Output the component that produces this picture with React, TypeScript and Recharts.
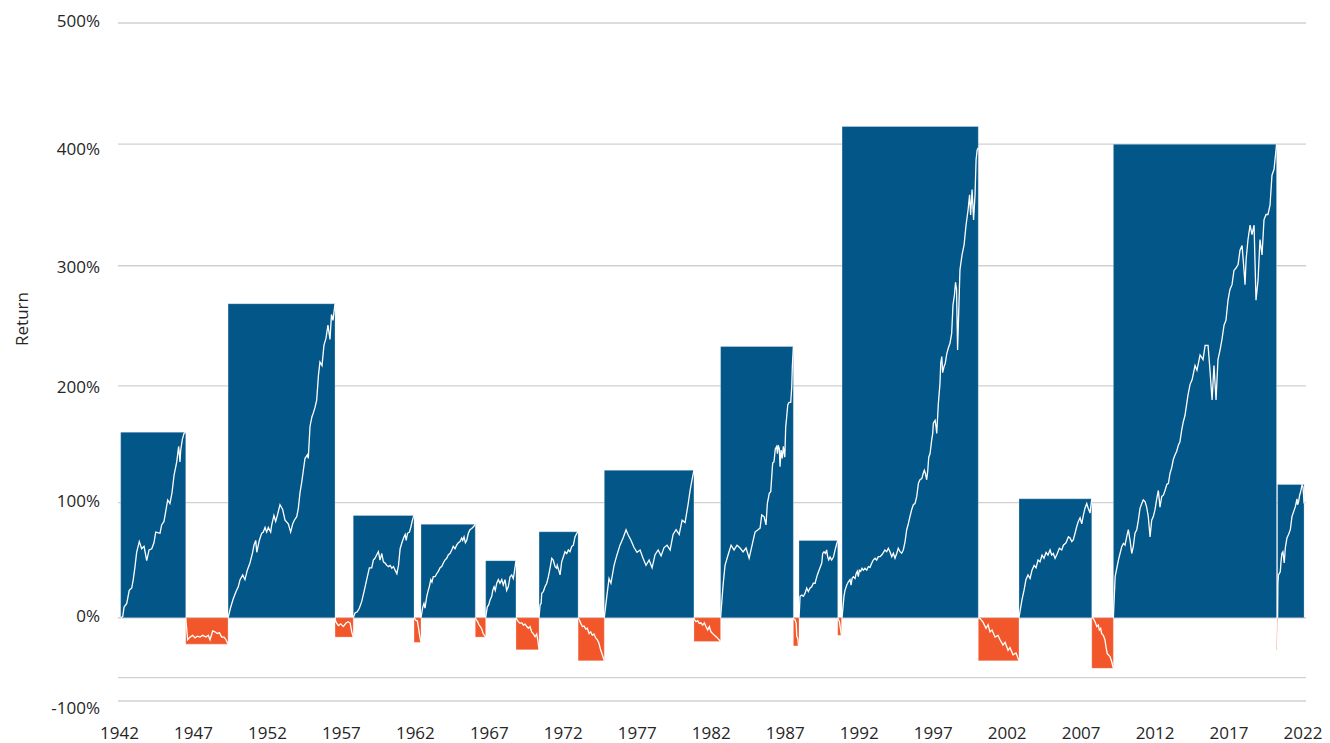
import { CartesianGrid, ComposedChart, Line, ReferenceArea, XAxis, YAxis } from "recharts";

const BLUE = "#035688";
const ORANGE = "#F1572A";
const INK = "#262626";
const FONT = "'Open Sans', sans-serif";

const yearTicks = [1942, 1947, 1952, 1957, 1962, 1967, 1972, 1977, 1982, 1987, 1992, 1997, 2002, 2007, 2012, 2017, 2022];
// gridlines sit where the original graphic draws them (it is not quite linear)
const returnTicks = [-70, -50.4, 0, 96.7, 195, 295.9, 398.2, 500];
const returnTickText = ["-100%", "", "0%", "100%", "200%", "300%", "400%", "500%"];
const returnTickShift = [6, 0, -2, -2, 1, 1, 4, -3];

// losses are drawn on a squeezed scale in the original graphic
const NEG_SQUASH = 0.74;
const toY = (r: number) => (r < 0 ? r * NEG_SQUASH : r);

// market phases (decimal years, cumulative return %)
const phaseStart = [1942.08, 1946.48, 1949.34, 1956.57, 1957.8, 1961.91, 1962.38, 1966.05, 1966.75, 1968.8, 1970.36, 1973.0, 1974.77, 1980.83, 1982.63, 1987.55, 1987.93, 1990.55, 1990.84, 2000.05, 2002.8, 2007.72, 2009.18, 2020.21, 2020.28];
const phaseEnd = [1946.48, 1949.34, 1956.57, 1957.8, 1961.91, 1962.38, 1966.05, 1966.75, 1968.8, 1970.36, 1973.0, 1974.77, 1980.83, 1982.63, 1987.55, 1987.93, 1990.55, 1990.8, 2000.05, 2002.8, 2007.72, 2009.18, 2020.21, 2020.28, 2022.07];
const phaseReturn = [156, -30, 264, -22, 86, -28, 78.5, -22, 48, -36.5, 72.3, -49, 124, -27, 228, -32, 65, -20, 413, -49, 100, -57.5, 398, -36, 112];

const path1942 = [[1942.08, 0], [1942.22, 1], [1942.31, 9], [1942.49, 12], [1942.66, 23], [1942.83, 25], [1942.93, 32], [1943.05, 43], [1943.16, 55], [1943.34, 64], [1943.5, 58], [1943.66, 60], [1943.84, 48], [1944.0, 57], [1944.18, 58], [1944.33, 63], [1944.45, 72], [1944.74, 71], [1944.85, 78], [1945.01, 81], [1945.12, 89], [1945.26, 99], [1945.41, 96], [1945.55, 105], [1945.69, 120], [1945.87, 131], [1946.0, 144], [1946.09, 131], [1946.14, 141], [1946.25, 150], [1946.36, 155], [1946.48, 156]];
const path1946 = [[1946.48, 0], [1946.55, -14], [1946.61, -25], [1946.77, -22], [1946.95, -20], [1947.11, -23], [1947.26, -21], [1947.44, -22], [1947.62, -20], [1947.85, -22], [1948.0, -20], [1948.12, -25], [1948.3, -15], [1948.45, -16], [1948.61, -18], [1948.75, -17], [1948.91, -22], [1949.07, -22], [1949.2, -25], [1949.34, -30]];
const path1949 = [[1949.34, 0], [1949.52, 9], [1949.69, 16], [1949.88, 22], [1950.03, 26], [1950.15, 32], [1950.33, 36], [1950.48, 32], [1950.64, 40], [1950.82, 46], [1951.0, 55], [1951.09, 61], [1951.21, 65], [1951.28, 55], [1951.45, 65], [1951.61, 71], [1951.72, 72], [1951.84, 76], [1951.95, 72], [1952.06, 76], [1952.22, 72], [1952.29, 78], [1952.44, 86], [1952.56, 81], [1952.67, 86], [1952.85, 95], [1953.03, 91], [1953.19, 82], [1953.41, 79], [1953.57, 72], [1953.71, 79], [1953.82, 82], [1953.98, 85], [1954.09, 92], [1954.2, 105], [1954.32, 114], [1954.43, 124], [1954.54, 134], [1954.7, 137], [1954.76, 134], [1954.88, 161], [1955.01, 169], [1955.1, 172], [1955.22, 177], [1955.33, 183], [1955.45, 204], [1955.55, 215], [1955.69, 212], [1955.82, 229], [1955.96, 235], [1956.09, 246], [1956.23, 234], [1956.33, 255], [1956.43, 250], [1956.57, 264]];
const path1956 = [[1956.57, 0], [1956.62, -4.5], [1956.79, -9], [1956.95, -7], [1957.13, -10], [1957.31, -6], [1957.47, -4.5], [1957.59, -6], [1957.7, -16], [1957.8, -22]];
const path1957 = [[1957.8, 0], [1957.92, 4], [1958.07, 5], [1958.21, 8], [1958.37, 13.5], [1958.53, 22], [1958.71, 32], [1958.89, 42], [1959.05, 42], [1959.16, 48.5], [1959.27, 50], [1959.39, 53], [1959.5, 55.5], [1959.61, 48.5], [1959.73, 54], [1959.84, 47], [1959.95, 46], [1960.07, 44], [1960.18, 43], [1960.3, 44], [1960.41, 41.6], [1960.52, 43], [1960.63, 40], [1960.75, 37], [1960.86, 44], [1960.97, 58], [1961.09, 63], [1961.2, 67], [1961.31, 70], [1961.38, 65], [1961.47, 71], [1961.6, 72], [1961.7, 76.5], [1961.78, 81], [1961.87, 85], [1961.91, 86]];
const path1961 = [[1961.91, 0], [1962.04, -3], [1962.13, -3.5], [1962.2, -10], [1962.27, -18], [1962.31, -22], [1962.38, -28]];
const path1962 = [[1962.38, 0], [1962.5, 9], [1962.58, 12], [1962.65, 8], [1962.77, 18], [1962.87, 23], [1962.94, 26], [1963.04, 32], [1963.12, 30], [1963.21, 34.5], [1963.33, 34.5], [1963.44, 37], [1963.55, 39], [1963.67, 42], [1963.78, 43], [1963.89, 46], [1964.0, 48.5], [1964.12, 50], [1964.23, 53], [1964.34, 54], [1964.46, 57], [1964.56, 60], [1964.68, 58], [1964.79, 61], [1964.9, 63], [1965.02, 64], [1965.13, 67], [1965.2, 65], [1965.29, 68], [1965.38, 63], [1965.47, 65], [1965.58, 71], [1965.69, 74], [1965.81, 75], [1965.92, 76.5], [1966.05, 78.5]];
const path1966 = [[1966.05, 0], [1966.12, -2.6], [1966.21, -4.5], [1966.3, -8], [1966.39, -10], [1966.49, -13], [1966.58, -18], [1966.75, -22]];
const path1966b = [[1966.75, 0], [1966.86, 9], [1966.96, 11], [1967.05, 15], [1967.16, 18], [1967.23, 23], [1967.32, 26], [1967.4, 23], [1967.5, 29], [1967.61, 32], [1967.72, 29], [1967.84, 32], [1967.94, 27.5], [1968.06, 32], [1968.17, 23], [1968.28, 26], [1968.4, 34.5], [1968.51, 36], [1968.62, 33], [1968.71, 40], [1968.8, 48]];
const path1968 = [[1968.8, 0], [1968.85, -2], [1968.96, -4.5], [1969.07, -6.4], [1969.19, -5.7], [1969.3, -8.3], [1969.41, -7.2], [1969.53, -10], [1969.64, -12], [1969.75, -10], [1969.86, -16], [1969.97, -18], [1970.09, -21.6], [1970.2, -18.5], [1970.27, -25], [1970.36, -36.5]];
const path1970 = [[1970.36, 0], [1970.43, 10.7], [1970.5, 12], [1970.54, 20.5], [1970.65, 22], [1970.76, 26], [1970.88, 29], [1970.99, 34.5], [1971.1, 41.6], [1971.22, 50], [1971.32, 48.5], [1971.44, 43], [1971.55, 41.6], [1971.59, 44], [1971.69, 40], [1971.78, 36], [1971.89, 47], [1972.0, 51], [1972.11, 55.5], [1972.23, 54], [1972.34, 57], [1972.45, 55.5], [1972.57, 60], [1972.68, 61], [1972.79, 68], [1972.91, 71], [1973.0, 72.3]];
const path1973 = [[1973.0, 0], [1973.07, -2], [1973.18, -6.4], [1973.29, -10], [1973.4, -9.4], [1973.52, -13], [1973.62, -12], [1973.74, -18], [1973.85, -16], [1973.96, -20], [1974.07, -18.5], [1974.19, -23], [1974.3, -25], [1974.41, -29], [1974.53, -37], [1974.64, -42], [1974.77, -49]];
const path1974 = [[1974.77, 0], [1974.95, 19], [1975.09, 33], [1975.22, 29], [1975.43, 44], [1975.63, 53], [1975.83, 61], [1976.04, 67], [1976.24, 74], [1976.37, 70], [1976.58, 65], [1976.78, 59], [1976.98, 55], [1977.19, 57], [1977.39, 50], [1977.59, 44], [1977.8, 48.5], [1978.0, 42], [1978.2, 53], [1978.41, 57], [1978.61, 52], [1978.81, 59], [1979.01, 61], [1979.22, 57], [1979.42, 70], [1979.62, 74], [1979.83, 70], [1980.03, 82], [1980.23, 80], [1980.43, 95], [1980.57, 107], [1980.7, 116], [1980.83, 124]];
const path1980 = [[1980.83, 0], [1980.85, -1.8], [1980.97, -4.5], [1981.08, -3.4], [1981.19, -6.4], [1981.3, -5.7], [1981.42, -8.3], [1981.53, -5.7], [1981.64, -10], [1981.76, -14], [1981.87, -10], [1981.98, -16], [1982.1, -18], [1982.21, -20], [1982.33, -21.6], [1982.44, -23.4], [1982.63, -27]];
const path1982 = [[1982.63, 0], [1982.8, 27.5], [1982.93, 44], [1983.14, 53], [1983.34, 61], [1983.54, 57], [1983.74, 61], [1983.95, 58.6], [1984.15, 55.3], [1984.35, 58.6], [1984.56, 50], [1984.76, 61], [1984.96, 72], [1985.16, 74], [1985.3, 75.4], [1985.41, 86.4], [1985.57, 85], [1985.7, 78], [1985.79, 96], [1985.92, 104.6], [1986.02, 106], [1986.15, 130], [1986.24, 131], [1986.33, 142], [1986.42, 144], [1986.47, 138], [1986.53, 145], [1986.6, 142], [1986.65, 127], [1986.72, 141], [1986.8, 134], [1986.87, 144], [1986.97, 135], [1987.03, 160], [1987.1, 169], [1987.17, 179], [1987.26, 181], [1987.37, 181], [1987.44, 194], [1987.48, 211], [1987.55, 228]];
const path1987 = [[1987.55, 0], [1987.6, -2], [1987.67, -2.6], [1987.74, -6.4], [1987.78, -21], [1987.85, -23.4], [1987.89, -31], [1987.93, -32]];
const path1987b = [[1987.93, 0], [1987.97, 9], [1988.0, 18], [1988.12, 19], [1988.23, 18], [1988.34, 20.5], [1988.45, 25], [1988.56, 22], [1988.68, 25], [1988.79, 26], [1988.9, 29], [1989.02, 29], [1989.08, 32], [1989.17, 36], [1989.26, 39], [1989.35, 42], [1989.47, 46], [1989.53, 54], [1989.62, 55.5], [1989.71, 54], [1989.8, 57], [1989.87, 51], [1989.94, 48.5], [1990.03, 51], [1990.14, 48.5], [1990.26, 51], [1990.37, 57], [1990.49, 62.6], [1990.55, 65]];
const path1990 = [[1990.55, 0], [1990.59, -2], [1990.66, -4.5], [1990.71, -10], [1990.8, -20]];
const path1990b = [[1990.84, 0], [1990.97, 18], [1991.04, 23], [1991.16, 27.5], [1991.26, 30], [1991.38, 32], [1991.45, 27.5], [1991.52, 33], [1991.6, 34.5], [1991.72, 33], [1991.79, 37], [1991.87, 39], [1991.94, 34.5], [1992.01, 40], [1992.1, 39], [1992.19, 41.6], [1992.28, 40], [1992.39, 41.6], [1992.51, 40], [1992.62, 43], [1992.73, 42.4], [1992.85, 46], [1992.95, 48.5], [1993.07, 50], [1993.18, 48.5], [1993.29, 51.3], [1993.41, 51.3], [1993.52, 52.7], [1993.63, 54.7], [1993.74, 57], [1993.86, 55.5], [1993.97, 58.4], [1994.08, 55.5], [1994.2, 51.3], [1994.31, 54.2], [1994.42, 50], [1994.54, 54.2], [1994.64, 58.4], [1994.76, 55.5], [1994.87, 54.2], [1994.98, 57], [1995.1, 64], [1995.21, 74], [1995.32, 79], [1995.43, 85], [1995.55, 91], [1995.66, 95], [1995.77, 96], [1995.89, 102], [1996.0, 113], [1996.11, 116], [1996.23, 117], [1996.33, 121.5], [1996.4, 124], [1996.47, 121.5], [1996.56, 116], [1996.63, 123], [1996.7, 135], [1996.79, 138], [1996.9, 149.5], [1996.97, 155], [1997.01, 163.5], [1997.13, 166], [1997.19, 161], [1997.24, 155], [1997.35, 180], [1997.46, 197], [1997.51, 214], [1997.58, 219.5], [1997.64, 206], [1997.73, 211], [1997.82, 214], [1997.92, 222], [1998.03, 227], [1998.14, 231], [1998.25, 239], [1998.34, 263], [1998.44, 271.5], [1998.51, 282], [1998.58, 276], [1998.65, 225], [1998.71, 250], [1998.81, 292.5], [1998.95, 305], [1999.09, 313.5], [1999.22, 330], [1999.36, 343], [1999.46, 355.6], [1999.53, 338.7], [1999.63, 360], [1999.73, 334.5], [1999.83, 355.6], [1999.9, 385], [1999.97, 393], [2000.05, 395]];
const path2000 = [[2000.05, 0], [2000.17, -1], [2000.37, -5], [2000.57, -12], [2000.71, -8], [2000.84, -16], [2000.98, -14], [2001.18, -22], [2001.38, -20], [2001.52, -25], [2001.72, -31], [2001.86, -28], [2002.06, -37], [2002.19, -34], [2002.4, -42], [2002.6, -40], [2002.8, -49]];
const path2002 = [[2002.8, 0], [2003.0, 15], [2003.14, 23], [2003.27, 32], [2003.41, 36], [2003.55, 33], [2003.68, 40], [2003.82, 44], [2003.95, 42], [2004.09, 48.5], [2004.22, 47], [2004.36, 52.7], [2004.49, 50], [2004.63, 55], [2004.76, 52.7], [2004.9, 57], [2005.01, 52.7], [2005.12, 54], [2005.24, 50], [2005.35, 52.7], [2005.53, 58.4], [2005.69, 57], [2005.8, 61], [2005.98, 63], [2006.14, 68], [2006.25, 67], [2006.37, 64], [2006.47, 65.4], [2006.59, 71], [2006.7, 76.5], [2006.81, 81], [2006.93, 84], [2007.04, 79], [2007.15, 86], [2007.26, 92], [2007.38, 96], [2007.48, 92], [2007.6, 88], [2007.72, 100]];
const path2007 = [[2007.72, 0], [2007.82, -0.7], [2007.94, -4.5], [2008.06, -10], [2008.16, -8.3], [2008.23, -14], [2008.32, -12], [2008.39, -18], [2008.5, -20], [2008.61, -25], [2008.68, -33], [2008.77, -41], [2008.84, -42], [2008.95, -44], [2009.07, -50], [2009.18, -57.5]];
const path2009 = [[2009.18, 0], [2009.3, 34.5], [2009.41, 41.6], [2009.52, 48.5], [2009.63, 54], [2009.75, 60], [2009.86, 62.6], [2009.97, 61], [2010.08, 68], [2010.19, 74], [2010.31, 65], [2010.42, 54], [2010.53, 60], [2010.64, 71], [2010.76, 74], [2010.87, 82], [2010.98, 92], [2011.1, 96], [2011.2, 99], [2011.32, 97.6], [2011.43, 93], [2011.54, 85], [2011.66, 68], [2011.77, 82], [2011.88, 85], [2011.99, 90.6], [2012.11, 100], [2012.22, 107], [2012.33, 93], [2012.45, 102], [2012.56, 103], [2012.67, 107], [2012.79, 112], [2012.9, 113], [2013.01, 121.5], [2013.12, 126], [2013.23, 133], [2013.35, 137], [2013.46, 140], [2013.57, 145], [2013.68, 148], [2013.8, 158], [2013.91, 165], [2014.02, 170], [2014.22, 187], [2014.36, 196], [2014.5, 200], [2014.7, 212], [2014.83, 208], [2015.04, 221], [2015.24, 217], [2015.38, 229], [2015.58, 229], [2015.71, 208], [2015.85, 183], [2015.98, 212], [2016.12, 183], [2016.25, 217], [2016.39, 225], [2016.52, 234], [2016.66, 246], [2016.79, 250], [2016.93, 267], [2017.06, 276], [2017.2, 280], [2017.33, 292], [2017.47, 294], [2017.61, 297], [2017.74, 309], [2017.88, 313], [2018.01, 292], [2018.08, 280], [2018.15, 301], [2018.28, 318], [2018.42, 330], [2018.55, 322], [2018.69, 330], [2018.82, 267], [2018.96, 284], [2019.09, 318], [2019.23, 305], [2019.36, 334.5], [2019.5, 339], [2019.63, 339], [2019.77, 347], [2019.9, 372], [2020.04, 377], [2020.17, 393], [2020.21, 398]];
const path2020 = [[2020.21, 0], [2020.28, -36]];
const path2020b = [[2020.28, 0], [2020.3, 29], [2020.34, 36], [2020.46, 38.6], [2020.52, 48.5], [2020.57, 54], [2020.64, 55.5], [2020.73, 46], [2020.8, 58.4], [2020.91, 67], [2021.02, 70], [2021.14, 74], [2021.25, 85], [2021.36, 89], [2021.48, 93.4], [2021.59, 100], [2021.63, 95], [2021.7, 97.6], [2021.77, 103], [2021.86, 107], [2021.93, 111.6], [2022.0, 110], [2022.07, 96]];

const paths = [path1942, path1946, path1949, path1956, path1957, path1961, path1962, path1966, path1966b, path1968, path1970, path1973, path1974, path1980, path1982, path1987, path1987b, path1990, path1990b, path2000, path2002, path2007, path2009, path2020, path2020b];

function ReturnTick({ x, y, index }: any) {
  const label = returnTickText[index];
  if (!label) return null;
  return (
    <text x={x} y={y + returnTickShift[index]} textAnchor="end" dominantBaseline="central" fontSize={17} fill={INK} fontFamily={FONT}>
      {label}
    </text>
  );
}

function AxisTitle() {
  return (
    <text x={13} y={311} transform="rotate(-90 13 311)" textAnchor="middle" dominantBaseline="central" fontSize={17} fill={INK} fontFamily={FONT}>
      Return
    </text>
  );
}

export default function App() {
  return (
    <div style={{ width: 1322, height: 735, fontFamily: FONT }}>
      <ComposedChart width={1322} height={735} margin={{ top: 15, right: 24, bottom: 0, left: 0 }}>
        <CartesianGrid vertical={false} stroke="#d0d0d0" strokeWidth={1.3} />
        <XAxis
          type="number"
          dataKey="x"
          domain={[1941.9, 2022.2]}
          ticks={yearTicks}
          allowDataOverflow
          axisLine={false}
          tickLine={false}
          tickSize={6}
          tickMargin={20}
          height={42}
          tick={{ fontSize: 17, fill: INK, fontFamily: FONT }}
        />
        <YAxis
          type="number"
          domain={[-70, 500]}
          ticks={returnTicks}
          allowDataOverflow
          axisLine={false}
          tickLine={false}
          width={110}
          tickMargin={12}
          tick={<ReturnTick />}
          label={<AxisTitle />}
        />
        {phaseStart.map((s, i) => (
          <ReferenceArea
            key={`phase-${i}`}
            x1={s}
            x2={phaseEnd[i]}
            y1={0}
            y2={toY(phaseReturn[i])}
            fill={phaseReturn[i] >= 0 ? BLUE : ORANGE}
            fillOpacity={1}
            stroke="#ffffff"
            strokeOpacity={0.35}
            strokeWidth={0.8}
          />
        ))}
        {paths.map((p, i) => (
          <Line
            key={`path-${i}`}
            data={p.map(([x, v]) => ({ x, v: toY(v) }))}
            dataKey="v"
            type="linear"
            stroke="#ffffff"
            strokeWidth={1.3}
            dot={false}
            activeDot={false}
            isAnimationActive={false}
          />
        ))}
      </ComposedChart>
    </div>
  );
}
